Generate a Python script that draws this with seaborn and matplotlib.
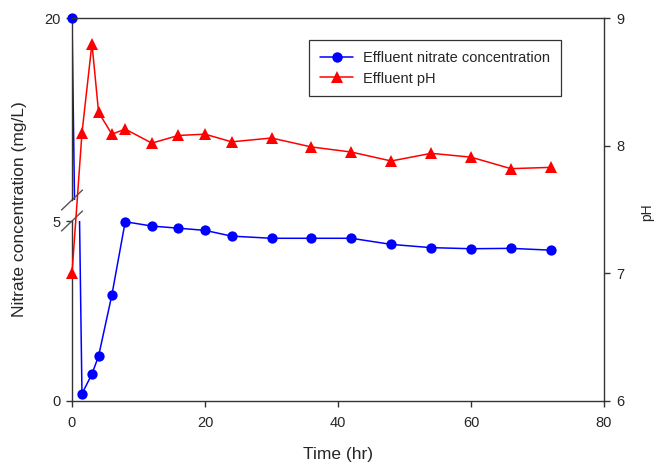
import numpy as np
import matplotlib
matplotlib.use('Agg')
import matplotlib.pyplot as plt
import seaborn as sns
from matplotlib.lines import Line2D

sns.set_style('ticks')
plt.rcParams['font.family'] = ['Liberation Sans', 'DejaVu Sans']

# Data
time_hr = np.array([0, 1.5, 3, 4, 6, 8, 12, 16, 20, 24, 30, 36, 42, 48, 54, 60, 66, 72])
nitrate = np.array([20, 0.2, 0.75, 1.25, 2.95, 4.98, 4.86, 4.80, 4.74, 4.58,
                    4.52, 4.52, 4.52, 4.35, 4.26, 4.23, 4.24, 4.19])
ph = np.array([7.0, 8.1, 8.80, 8.26, 8.09, 8.13, 8.02, 8.08, 8.09, 8.03,
               8.06, 7.99, 7.95, 7.88, 7.94, 7.91, 7.82, 7.83])

x_ticks = [0, 20, 40, 60, 80]
ph_ticks = [6, 7, 8, 9]
lower_range = (0, 5)     # below the axis break
upper_range = (15, 20)   # above the axis break

W_PX, H_PX = 655, 463
fig = plt.figure(figsize=(W_PX / 100, H_PX / 100), dpi=100)

left, right = 72 / W_PX, 604 / W_PX
width = right - left
bottom = (H_PX - 401) / H_PX

ax_lo = fig.add_axes([left, bottom, width, 180 / H_PX])
ax_hi = fig.add_axes([left, (H_PX - 200) / H_PX, width, 182 / H_PX])
ax_ph = fig.add_axes([left, bottom, width, 383 / H_PX])
ax_ph.patch.set_visible(False)

blue = '#0000ff'
red = '#ff0000'
spine_col = '#333333'

# nitrate: same series on both halves of the broken axis
for ax, (lo, hi) in [(ax_lo, lower_range), (ax_hi, upper_range)]:
    sns.lineplot(x=time_hr, y=nitrate, ax=ax, color=blue, lw=1.1, sort=False)
    inside = (nitrate >= lo) & (nitrate <= hi)
    sns.scatterplot(x=time_hr[inside], y=nitrate[inside], ax=ax, color=blue,
                    s=55, linewidth=0, zorder=3, clip_on=False)
    ax.set_ylim(lo, hi)
    ax.set_xlim(0, 80)
    ax.patch.set_visible(False)
    for side in ['top', 'right', 'bottom']:
        ax.spines[side].set_visible(False)
    ax.spines['left'].set_color(spine_col)
    ax.spines['left'].set_linewidth(1.0)
    ax.set_xticks([])
    ax.tick_params(axis='y', direction='out', length=4, width=1, pad=4,
                   labelsize=10.5, color=spine_col)

ax_lo.set_yticks([0, 5])
ax_hi.set_yticks([20])

# break marks on the left axis
dx = 10.5 / (right - left) / W_PX
ax_lo.plot([-dx, dx], [1 - 10 / 180, 1 + 10 / 180], transform=ax_lo.transAxes,
           color='#555555', lw=1, clip_on=False)
ax_hi.plot([-dx, dx], [-10 / 182, 10 / 182], transform=ax_hi.transAxes,
           color='#555555', lw=1, clip_on=False)

# pH on the right axis
sns.lineplot(x=time_hr, y=ph, ax=ax_ph, color=red, lw=1.1, marker='^',
             markersize=8, markeredgewidth=0, clip_on=False, sort=False)
ax_ph.set_xlim(0, 80)
ax_ph.set_ylim(6, 9)
ax_ph.set_xticks(x_ticks)
ax_ph.set_yticks(ph_ticks)
ax_ph.yaxis.tick_right()
ax_ph.spines['left'].set_visible(False)
for side in ['top', 'right', 'bottom']:
    ax_ph.spines[side].set_visible(True)
    ax_ph.spines[side].set_color(spine_col)
    ax_ph.spines[side].set_linewidth(1.0)
ax_ph.tick_params(axis='x', direction='out', length=4, width=1, pad=7,
                  labelsize=10.5, color=spine_col)
ax_ph.tick_params(axis='y', direction='out', length=4, width=1, pad=5,
                  labelsize=10.5, color=spine_col)

fig.text(20 / W_PX, 1 - 209 / H_PX, 'Nitrate concentration (mg/L)',
         rotation=90, ha='center', va='center', fontsize=12.5)
fig.text(338 / W_PX, 1 - 454 / H_PX, 'Time (hr)', ha='center', va='center',
         fontsize=12.5)
fig.text(647 / W_PX, 1 - 212 / H_PX, 'pH', rotation=90, ha='center',
         va='center', fontsize=10)

handles = [
    Line2D([], [], color=blue, lw=1.1, marker='o', markersize=7.5,
           markeredgewidth=0, label='Effluent nitrate concentration'),
    Line2D([], [], color=red, lw=1.1, marker='^', markersize=8,
           markeredgewidth=0, label='Effluent pH'),
]
leg = ax_ph.legend(handles=handles, loc='upper left',
                   bbox_to_anchor=(309 / W_PX, 1 - 40 / H_PX),
                   bbox_transform=fig.transFigure, fontsize=10.5,
                   frameon=True, fancybox=False, framealpha=1,
                   edgecolor='#333333', borderpad=0.75, labelspacing=0.45,
                   handlelength=2.3, handletextpad=0.65, borderaxespad=0)
leg.get_frame().set_linewidth(0.9)

fig.savefig('out.png', dpi=100)
